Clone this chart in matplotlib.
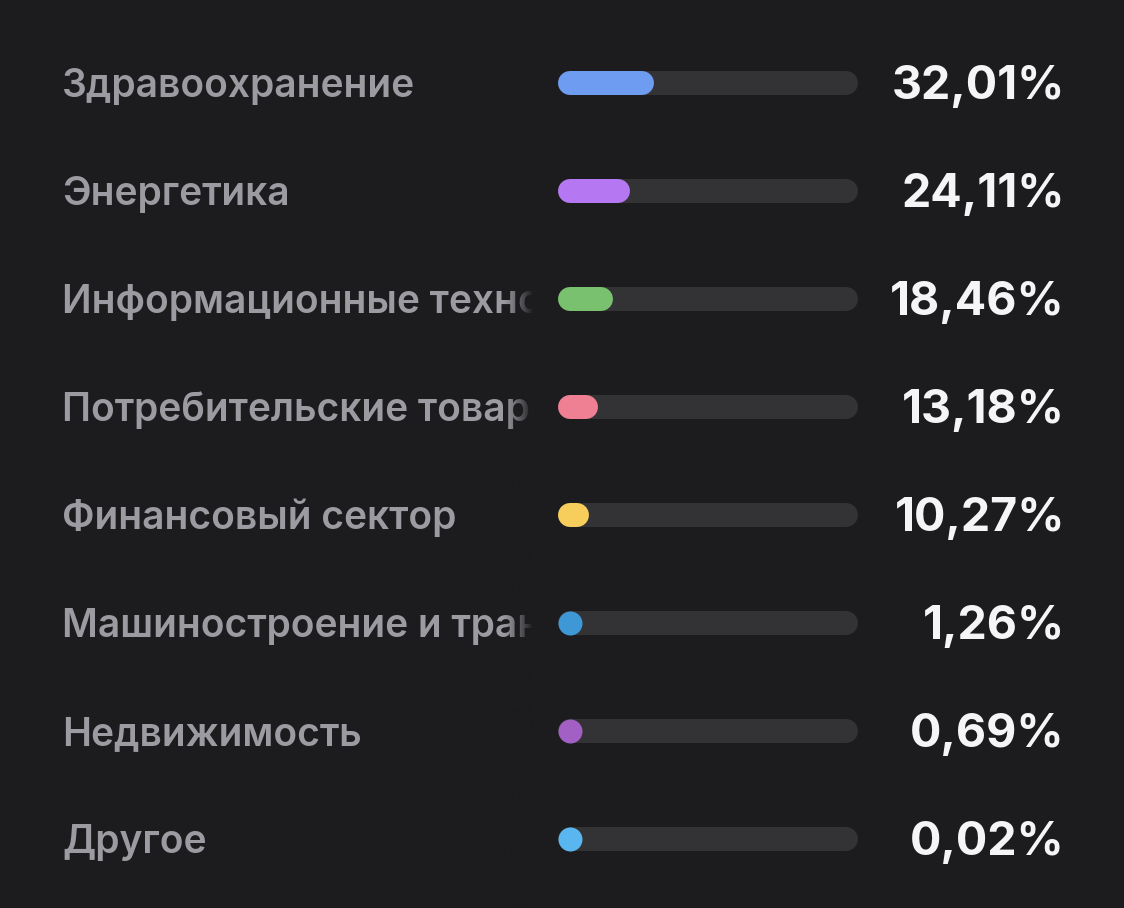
import matplotlib.pyplot as plt
import numpy as np
from matplotlib.transforms import Bbox, TransformedBbox

# Данные
sectors = [
    'Здравоохранение',
    'Энергетика',
    'Информационные технологии',
    'Потребительские товары',
    'Финансовый сектор',
    'Машиностроение и транспорт',
    'Недвижимость',
    'Другое',
]
shares = [32.01, 24.11, 18.46, 13.18, 10.27, 1.26, 0.69, 0.02]
value_labels = ['32,01%', '24,11%', '18,46%', '13,18%', '10,27%', '1,26%', '0,69%', '0,02%']
bar_colors = ['#6e9cf0', '#b678f2', '#79c16f', '#ef8094', '#f7cd5b', '#3f98d6', '#a25fc4', '#5ab6ee']

BG = '#1c1c1e'
TRACK = '#333336'
LABEL = '#9b9ba1'
VALUE = '#f5f5f7'

W, H, DPI = 1124, 908, 100
fig = plt.figure(figsize=(W / DPI, H / DPI), dpi=DPI, facecolor=BG)
ax = fig.add_axes([0, 0, 1, 1])
ax.set_facecolor(BG)
ax.axis('off')

# шкала: 0..100% -> пиксели 558..858, строки по 108 px, первая на 83 px
px_per_unit = 3.0
row_px = 108.0
xlim = (-558 / px_per_unit, (W - 558) / px_per_unit)
ylim = ((H - 83) / row_px, -83 / row_px)
ax.set_xlim(*xlim)
ax.set_ylim(*ylim)

bar_h_px = 24
lw = bar_h_px * 72 / DPI
r = bar_h_px / 2 / px_per_unit  # радиус скругления в единицах x

for i, (val, col) in enumerate(zip(shares, bar_colors)):
    # дорожка
    ax.plot([r, 100 - r], [i, i], color=TRACK, lw=lw, solid_capstyle='round', zorder=1)
    # заполнение (минимум — кружок)
    if val > 2 * r:
        ax.plot([r, val - r], [i, i], color=col, lw=lw, solid_capstyle='round', zorder=2)
    else:
        ax.scatter([r], [i], s=lw ** 2, color=col, marker='o', linewidths=0, zorder=2)

# подписи секторов, обрезанные перед шкалой
clip_x = -(558 - 533) / px_per_unit
clip_box = TransformedBbox(Bbox([[xlim[0], ylim[1]], [clip_x, ylim[0]]]), ax.transData)
for i, name in enumerate(sectors):
    t = ax.text(-(558 - 62) / px_per_unit, i + 14 / row_px, name, color=LABEL,
                fontsize=28, fontfamily='Inter', fontweight='semibold',
                ha='left', va='baseline', zorder=3, clip_on=True)
    t.set_clip_box(clip_box)

# плавное затухание текста
grad = np.zeros((1, 256, 4))
grad[..., :3] = np.array([0x1c, 0x1c, 0x1e]) / 255
grad[..., 3] = np.linspace(0, 1, 256) ** 1.2
ax.imshow(grad, extent=(-(558 - 503) / px_per_unit, clip_x, ylim[0], ylim[1]),
          aspect='auto', zorder=4, interpolation='bilinear')

# значения
for i, lab in enumerate(value_labels):
    ax.text((1065 - 558) / px_per_unit, i + 16 / row_px, lab, color=VALUE,
            fontsize=33.5, fontfamily='Inter', fontweight='bold',
            ha='right', va='baseline', zorder=3)

ax.set_xlim(*xlim)
ax.set_ylim(*ylim)

fig.savefig('out.png', dpi=DPI, facecolor=BG)
